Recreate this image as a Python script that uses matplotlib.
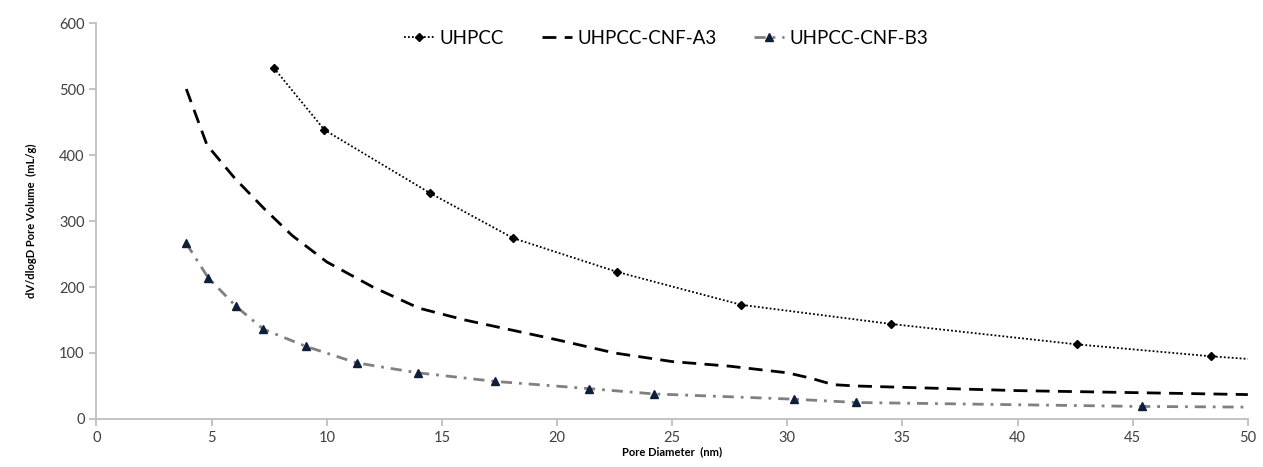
import matplotlib.pyplot as plt

plt.rcParams['font.family'] = ['Lato', 'DejaVu Sans']

# UHPCC (dotted, diamonds); last point is the line end at the axis edge
uhpcc_x = [7.7, 9.9, 14.5, 18.1, 22.6, 28.0, 34.5, 42.6, 48.4, 50.0]
uhpcc_y = [532, 438, 342, 274, 223, 173, 144, 113, 95, 91]

# UHPCC-CNF-A3 (dashed, no markers)
a3_x = [3.9, 4.8, 6.0, 7.3, 8.5, 10.0, 12.0, 14.0, 16.0, 18.0, 20.0, 22.5,
        25.0, 27.5, 30.0, 31.0, 32.0, 33.0, 35.0, 40.0, 45.0, 50.0]
a3_y = [500, 415, 365, 318, 278, 238, 200, 168, 150, 135, 120, 100,
        87, 80, 70, 62, 52, 50, 48, 43, 40, 37]

# UHPCC-CNF-B3 (dash-dot, triangles)
b3_x = [3.9, 4.85, 6.05, 7.25, 9.1, 11.3, 13.95, 17.3, 21.4, 24.2, 30.3, 33.0, 45.4, 50.0]
b3_y = [266, 214, 171, 136, 110, 85, 70, 57, 46, 38, 30, 25, 19, 18]

fig = plt.figure(figsize=(12.63, 4.67), dpi=100)
ax = fig.add_axes([0.0764, 0.1028, 0.9116, 0.8479])

ax.plot(uhpcc_x, uhpcc_y, color='black', linestyle=(0, (1, 1.2)), linewidth=1.3,
        marker='D', markersize=4.5, markevery=list(range(len(uhpcc_x) - 1)),
        label='UHPCC')
ax.plot(a3_x, a3_y, color='black', linestyle=(0, (5, 3)), linewidth=2,
        label='UHPCC-CNF-A3')
ax.plot(b3_x, b3_y, color='#808080', linestyle=(0, (4, 2.5, 1, 2.5)), linewidth=2,
        marker='^', markersize=5.5, markerfacecolor='#0d1f3a', markeredgecolor='#0d1f3a',
        markevery=list(range(len(b3_x) - 1)), label='UHPCC-CNF-B3')

ax.set_xlim(0, 50)
ax.set_ylim(0, 600)
ax.set_xticks(range(0, 51, 5))
ax.set_yticks(range(0, 601, 100))

for s in ['top', 'right']:
    ax.spines[s].set_visible(False)
for s in ['left', 'bottom']:
    ax.spines[s].set_color('#BFBFBF')
    ax.spines[s].set_linewidth(1.3)
ax.tick_params(direction='out', length=5, color='#BFBFBF', width=1.3,
               labelsize=10.5, labelcolor='#404040')

ax.set_xlabel('Pore Diameter  (nm)', fontsize=8, fontweight='bold', labelpad=1)
ax.set_ylabel('dV/dlogD Pore Volume  (mL/g)', fontsize=8, fontweight='bold', labelpad=16)

ax.legend(loc='upper center', bbox_to_anchor=(0.495, 1.025), ncol=3, frameon=False,
          fontsize=13.5, handlelength=1.6, handletextpad=0.3, columnspacing=2.0)

plt.savefig('out.png', dpi=100)
